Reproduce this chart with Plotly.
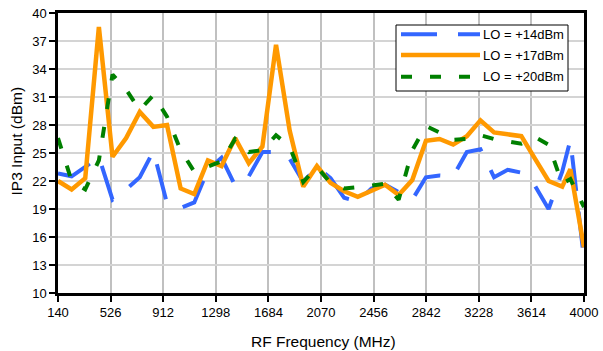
import plotly.graph_objects as go

# RF sweep points (MHz)
freq_mhz = [140, 240, 340, 440, 540, 640, 740, 840, 940, 1040,
            1140, 1240, 1340, 1440, 1540, 1640, 1740, 1840, 1940, 2040,
            2140, 2240, 2340, 2440, 2540, 2640, 2740, 2840, 2940, 3040,
            3140, 3240, 3340, 3440, 3540, 3640, 3740, 3840, 3900, 4000]

# Input IP3 (dBm) for each LO drive level
ip3_lo14 = [22.8, 22.5, 23.5, 24.6, 20.0, 21.1, 22.4, 25.2, 19.6, 19.1,
            19.7, 23.2, 24.5, 21.5, 22.5, 25.1, 25.1, 24.4, 21.9, 23.5,
            22.3, 20.2, 19.8, 21.2, 21.6, 20.8, 20.0, 22.4, 22.6, 22.5,
            25.1, 25.4, 22.4, 23.2, 22.9, 21.5, 19.0, 23.0, 26.4, 13.6]
ip3_lo17 = [22.0, 21.1, 22.3, 38.5, 24.6, 26.6, 29.4, 27.8, 28.0, 21.2,
            20.6, 24.2, 23.6, 26.6, 23.9, 25.7, 36.6, 27.4, 21.4, 23.6,
            21.8, 20.9, 20.3, 21.0, 21.6, 20.5, 22.1, 26.3, 26.5, 25.9,
            26.8, 28.5, 27.2, 27.0, 26.8, 24.4, 22.0, 21.4, 23.25, 14.9]
ip3_lo20 = [26.6, 22.0, 21.1, 24.2, 33.4, 31.8, 29.6, 31.2, 28.9, 25.3,
            23.0, 23.5, 24.1, 26.5, 25.1, 25.3, 26.9, 25.7, 21.9, 23.5,
            21.8, 21.2, 21.3, 21.5, 21.7, 20.0, 25.3, 27.9, 27.2, 26.4,
            26.5, 26.9, 26.5, 26.2, 26.0, 26.7, 25.9, 21.7, 22.2, 19.2]

series_names = ["LO = +14dBm", "LO = +17dBm", "LO = +20dBm"]
x_ticks = [140, 526, 912, 1298, 1684, 2070, 2456, 2842, 3228, 3614, 4000]
y_ticks = [10, 13, 16, 19, 22, 25, 28, 31, 34, 37, 40]

FONT = "Liberation Sans, Arial, sans-serif"
W, H = 603, 351
L, R, T, B = 58, 19, 13, 58
PW, PH = W - L - R, H - T - B


def px_x(x):
    return (x - L) / PW


def px_y(y):
    return (H - B - y) / PH


styles = [
    dict(color="#3366ff", width=4, dash="36px,21px"),
    dict(color="#ff9900", width=4.5),
    dict(color="#008000", width=4, dash="11px,18px"),
]

fig = go.Figure()
for name, vals, st in zip(series_names, [ip3_lo14, ip3_lo17, ip3_lo20], styles):
    fig.add_trace(go.Scatter(x=freq_mhz, y=vals, mode="lines", name=name,
                             line=dict(**st, shape="linear"),
                             showlegend=False, hoverinfo="skip"))

axis_common = dict(
    showline=True, linecolor="black", linewidth=2.5, mirror=True,
    ticks="outside", ticklen=6, tickwidth=2, tickcolor="black",
    tickfont=dict(family=FONT, size=13, color="black"),
    zeroline=False, automargin=False,
)

fig.update_layout(
    width=W, height=H,
    margin=dict(l=L, r=R, t=T, b=B, autoexpand=False),
    paper_bgcolor="white", plot_bgcolor="white",
    xaxis=dict(range=[140, 4000], tickmode="array", tickvals=x_ticks,
               ticktext=[str(v) for v in x_ticks],
               showgrid=True, gridcolor="#c0c0c0", gridwidth=2, **axis_common),
    yaxis=dict(range=[10, 40], tickmode="array", tickvals=y_ticks,
               ticktext=[str(v) for v in y_ticks],
               showgrid=True, gridcolor="#d4d4d4", gridwidth=1.5, **axis_common),
)

# Axis titles
fig.add_annotation(text="IP3 Input (dBm)", xref="paper", yref="paper",
                   x=px_x(16), y=px_y(141.5), textangle=-90, showarrow=False,
                   xanchor="center", yanchor="middle",
                   font=dict(family=FONT, size=15.5, color="black"))
fig.add_annotation(text="RF Frequency (MHz)", xref="paper", yref="paper",
                   x=px_x(323), y=px_y(341.5), showarrow=False,
                   xanchor="center", yanchor="middle",
                   font=dict(family=FONT, size=15.5, color="black"))

# Legend box with long line samples
fig.add_shape(type="rect", xref="paper", yref="paper",
              x0=px_x(396), x1=px_x(568), y0=px_y(91), y1=px_y(25),
              line=dict(color="black", width=1), fillcolor="white", layer="above")
for k, (name, st) in enumerate(zip(series_names, styles)):
    yy = [34.3, 55.0, 76.7][k]
    fig.add_shape(type="line", xref="paper", yref="paper",
                  x0=px_x(401), x1=px_x(480), y0=px_y(yy), y1=px_y(yy),
                  line=dict(color=st["color"], width=st["width"],
                            dash=st.get("dash", "solid")), layer="above")
    fig.add_annotation(text=name, xref="paper", yref="paper",
                       x=px_x(481), y=px_y(yy), showarrow=False,
                       xanchor="left", yanchor="middle",
                       font=dict(family=FONT, size=13, color="black"))

fig.write_html("out.html")
